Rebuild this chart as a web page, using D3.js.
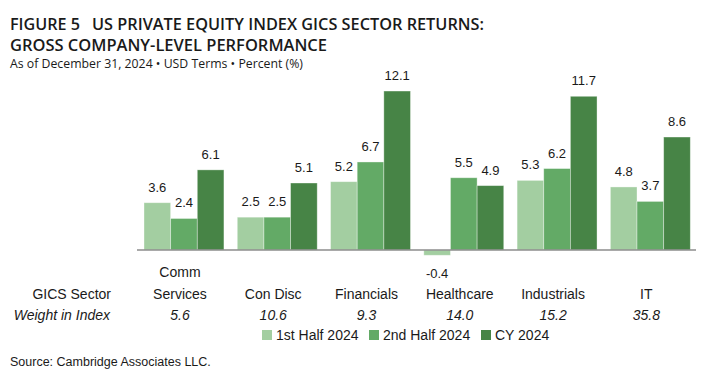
<!DOCTYPE html>
<html>
<head>
<meta charset="utf-8">
<script src="https://cdn.jsdelivr.net/npm/d3@7"></script>
<style>
  body { margin: 0; background: #fff; }
  svg { display: block; font-family: "Liberation Sans", Arial, sans-serif; }
</style>
</head>
<body>
<svg id="chart" width="711" height="373"></svg>
<script>
// sector categories (lines of the x labels)
const sectors = ['Comm Services', 'Con Disc', 'Financials', 'Healthcare', 'Industrials', 'IT'];
const sectorLines = [['Comm', 'Services'], ['Con Disc'], ['Financials'], ['Healthcare'], ['Industrials'], ['IT']];
const weights = ['5.6', '10.6', '9.3', '14.0', '15.2', '35.8'];

const seriesNames = ['1st Half 2024', '2nd Half 2024', 'CY 2024'];
const firstHalf = [3.6, 2.5, 5.2, -0.4, 5.3, 4.8];
const secondHalf = [2.4, 2.5, 6.7, 5.5, 6.2, 3.7];
const fullYear = [6.1, 5.1, 12.1, 4.9, 11.7, 8.6];
const colors = ['#a3cea1', '#63aa66', '#478446'];

const svg = d3.select('#chart');
const textColor = '#1a1a1a';

// titles
const title = svg.append('g').attr('class', 'titles')
    .style('font-family', '"Open Sans", "Noto Sans", sans-serif')
    .style('fill', textColor);

const line1 = title.append('text')
    .attr('x', 10).attr('y', 30)
    .style('font-size', '16px').style('font-weight', 600);
line1.append('tspan').text('FIGURE 5')
    .attr('textLength', 70).attr('lengthAdjust', 'spacingAndGlyphs');
line1.append('tspan').attr('x', 92).text('US PRIVATE EQUITY INDEX GICS SECTOR RETURNS:')
    .attr('textLength', 392).attr('lengthAdjust', 'spacingAndGlyphs');

title.append('text')
    .attr('x', 10).attr('y', 51)
    .attr('textLength', 317).attr('lengthAdjust', 'spacingAndGlyphs')
    .style('font-size', '16px').style('font-weight', 600)
    .text('GROSS COMPANY-LEVEL PERFORMANCE');

title.append('text')
    .attr('x', 10).attr('y', 68)
    .attr('textLength', 293).attr('lengthAdjust', 'spacingAndGlyphs')
    .style('font-size', '12px')
    .text('As of December 31, 2024 \u2022 USD Terms \u2022 Percent (%)');

// scales
const x0 = d3.scaleBand()
    .domain(sectors)
    .range([137, 697.3])
    .paddingInner(0.143)
    .paddingOuter(0.075);

const x1 = d3.scaleBand()
    .domain(seriesNames)
    .range([0, x0.bandwidth()]);

const y = d3.scaleLinear()
    .domain([-2, 13])
    .range([276.3, 79.2]);

const rows = sectors.map((s, i) => ({
    sector: s,
    values: [firstHalf[i], secondHalf[i], fullYear[i]].map((v, j) => ({series: seriesNames[j], value: v, idx: j}))
}));

const groups = svg.append('g').attr('class', 'bars')
    .selectAll('g')
    .data(rows)
    .enter().append('g')
    .attr('transform', d => `translate(${x0(d.sector)},0)`);

groups.selectAll('rect')
    .data(d => d.values)
    .enter().append('rect')
    .attr('x', d => x1(d.series))
    .attr('width', x1.bandwidth())
    .attr('y', d => y(Math.max(0, d.value)))
    .attr('height', d => Math.abs(y(d.value) - y(0)))
    .style('fill', d => colors[d.idx])
    .style('stroke', 'rgba(255,255,255,0.45)')
    .style('stroke-width', 0.8);

groups.selectAll('text')
    .data(d => d.values)
    .enter().append('text')
    .attr('x', d => x1(d.series) + x1.bandwidth() / 2)
    .attr('y', d => d.value >= 0 ? y(d.value) - 11 : y(d.value) + 23)
    .attr('text-anchor', 'middle')
    .style('font-size', '13px')
    .style('fill', textColor)
    .text(d => d.value.toFixed(1));

// zero line
svg.append('line')
    .attr('x1', 137).attr('x2', 696)
    .attr('y1', y(0)).attr('y2', y(0))
    .style('stroke', '#8c8c8c')
    .style('stroke-width', 1.5);

// category labels
const labels = svg.append('g').attr('class', 'x-labels')
    .style('font-size', '14px')
    .style('fill', textColor);

sectors.forEach((s, i) => {
    const cx = x0(s) + x0.bandwidth() / 2 - 4;
    const lines = sectorLines[i];
    lines.forEach((line, k) => {
        labels.append('text')
            .attr('x', cx)
            .attr('y', 299 - (lines.length - 1 - k) * 22)
            .attr('text-anchor', 'middle')
            .text(line);
    });
    labels.append('text')
        .attr('x', cx)
        .attr('y', 320)
        .attr('text-anchor', 'middle')
        .style('font-style', 'italic')
        .text(weights[i]);
});

labels.append('text')
    .attr('x', 111).attr('y', 299)
    .attr('text-anchor', 'end')
    .text('GICS Sector');

labels.append('text')
    .attr('x', 110).attr('y', 320)
    .attr('text-anchor', 'end')
    .style('font-style', 'italic')
    .text('Weight in Index');

// legend
const legendX = [262, 369, 481];
const legend = svg.append('g').attr('class', 'legend')
    .selectAll('g')
    .data(seriesNames)
    .enter().append('g')
    .attr('transform', (d, i) => `translate(${legendX[i]},330)`);

legend.append('rect')
    .attr('width', 10).attr('height', 10)
    .style('fill', (d, i) => colors[i]);

legend.append('text')
    .attr('x', 14).attr('y', 10)
    .style('font-size', '14px')
    .style('fill', textColor)
    .text(d => d);

// source
svg.append('text')
    .attr('x', 10).attr('y', 366)
    .style('font-size', '12.5px')
    .style('fill', textColor)
    .text('Source: Cambridge Associates LLC.');
</script>
</body>
</html>
